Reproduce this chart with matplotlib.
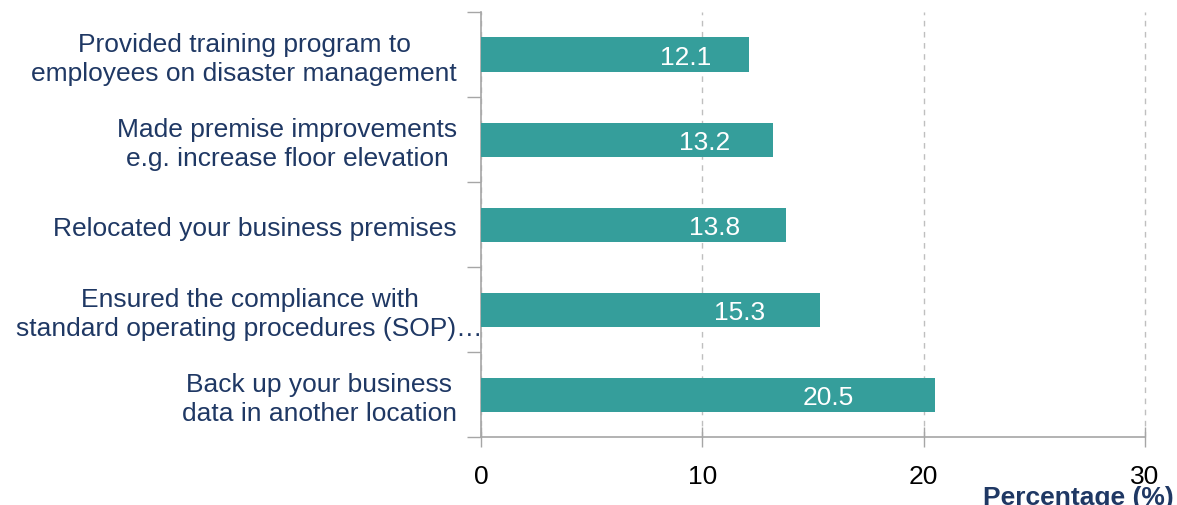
import matplotlib
matplotlib.use("Agg")
import matplotlib.pyplot as plt
from matplotlib.transforms import offset_copy

categories = [
    "Back up your business\ndata in another location",
    "Ensured the compliance with\nstandard operating procedures (SOP)\u2026",
    "Relocated your business premises",
    "Made premise improvements\ne.g. increase floor elevation",
    "Provided training program to\nemployees on disaster management",
]
values = [20.5, 15.3, 13.8, 13.2, 12.1]
x_ticks = [0, 10, 20, 30]

plt.rcParams["font.family"] = ["Liberation Sans", "DejaVu Sans"]

navy = "#1F3864"
bar_color = "#359E9B"
axis_grey = "#A6A6A6"
FS = 19

fig = plt.figure(figsize=(11.77, 5.06), dpi=100)
ax = fig.add_axes([481 / 1177, 1 - 438 / 506, (1145 - 481) / 1177, (438 - 13) / 506])

ypos = list(range(len(categories)))
ax.barh(ypos, values, height=0.4, color=bar_color, zorder=3)

value_tr = offset_copy(ax.transData, fig=fig, x=0, y=-3, units="dots")
for y, v in zip(ypos, values):
    ax.text(v * 0.765, y, f"{v:.1f}", color="white", fontsize=FS,
            ha="center", va="center", zorder=4, transform=value_tr)

ax.set_xlim(0, 30)
ax.set_ylim(-0.5, len(categories) - 0.5)
ax.set_xticks(x_ticks)
ax.set_xticklabels([str(t) for t in x_ticks], fontsize=FS, color="black")
ax.tick_params(axis="x", length=15, width=1, color=axis_grey, pad=12, direction="inout")

# category labels: right-aligned blocks with centred lines
ax.set_yticks(ypos)
ax.set_yticklabels([])
ax.tick_params(axis="y", length=0)
for y, label in zip(ypos, categories):
    shift = 2 if label.endswith("\u2026") else -24
    tr = offset_copy(ax.get_yaxis_transform(), fig=fig, x=shift, y=-4, units="dots")
    ax.text(0, y, label, transform=tr, fontsize=FS, color=navy, ha="right",
            va="center", multialignment="center", linespacing=1.25, clip_on=False)

ax.set_yticks([i - 0.5 for i in range(len(categories) + 1)], minor=True)
ax.tick_params(axis="y", which="minor", length=10, width=1, color=axis_grey)

ax.grid(axis="x", linestyle=(0, (4, 4)), color="#BFBFBF", linewidth=1, zorder=0)
for gl in ax.get_xgridlines():
    gl.set_clip_on(False)
for s in ["top", "right"]:
    ax.spines[s].set_visible(False)
for s in ["left", "bottom"]:
    ax.spines[s].set_color(axis_grey)
    ax.spines[s].set_linewidth(1.2)

fig.text(1174 / 1177, 1 - 486 / 506, "Percentage (%)", fontsize=FS,
         fontweight="bold", color=navy, ha="right", va="top")

fig.savefig("out.png", dpi=100)
